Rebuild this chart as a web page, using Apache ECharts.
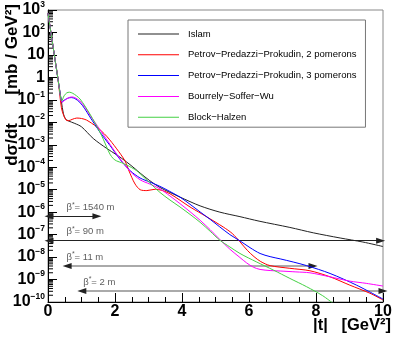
<!DOCTYPE html>
<html>
<head>
<meta charset="utf-8">
<script src="https://cdn.jsdelivr.net/npm/echarts@6/dist/echarts.min.js"></script>
<style>
html, body { margin: 0; padding: 0; background: #fff; }
#main { width: 401px; height: 338px; }
</style>
</head>
<body>
<div id="main"></div>
<script>
// |t| in GeV^2, and log10 of dsigma/dt in mb/GeV^2
var tIslam  = [0, 0.1, 0.2, 0.3, 0.4, 0.46, 0.52, 0.6, 0.8, 1.0, 1.35, 1.75, 2.05, 2.35, 2.6, 2.75, 3.04, 3.34, 3.64, 3.94, 4.54, 5.13, 5.73, 6.3, 7.22, 7.92, 8.72, 9.4, 10];
var lgIslam = [2.85, 1.87, 0.89, -0.09, -1.07, -1.62, -1.84, -1.93, -2.05, -2.2, -2.72, -3.16, -3.45, -3.77, -4.07, -4.26, -4.6, -4.9, -5.12, -5.33, -5.72, -6.0, -6.2, -6.4, -6.68, -6.92, -7.15, -7.33, -7.53];

var tPpp2  = [0, 0.1, 0.2, 0.3, 0.4, 0.47, 0.54, 0.61, 0.72, 0.86, 1.0, 1.15, 1.45, 1.75, 2.05, 2.3, 2.4, 2.5, 2.6, 2.75, 2.95, 3.2, 3.4, 3.64, 3.94, 4.24, 4.74, 5.23, 5.5, 5.73, 5.95, 6.15, 6.35, 6.63, 7.22, 7.82, 8.42, 9.01, 9.61, 10];
var lgPpp2 = [2.85, 1.87, 0.89, -0.09, -1.35, -1.7, -1.9, -1.93, -1.87, -1.81, -1.83, -1.9, -2.2, -2.62, -3.18, -3.72, -4.1, -4.45, -4.75, -5.0, -5.04, -4.98, -5.03, -5.18, -5.47, -5.77, -6.21, -6.66, -6.95, -7.32, -7.7, -7.98, -8.2, -8.38, -8.5, -8.61, -8.88, -9.25, -9.61, -9.91];

var tPpp3  = [0, 0.1, 0.2, 0.3, 0.36, 0.42, 0.5, 0.6, 0.7, 0.8, 0.95, 1.1, 1.25, 1.4, 1.55, 1.85, 2.15, 2.45, 2.75, 3.04, 3.34, 3.64, 3.94, 4.24, 4.54, 4.84, 5.13, 5.43, 5.73, 6.03, 6.33, 6.63, 6.93, 7.32, 7.72, 8.42, 9.21, 10];
var lgPpp3 = [2.85, 1.87, 0.89, -0.09, -0.7, -1.07, -1.0, -0.92, -0.9, -0.94, -1.11, -1.4, -1.76, -2.1, -2.44, -3.03, -3.65, -4.15, -4.48, -4.66, -4.85, -5.08, -5.33, -5.65, -5.99, -6.32, -6.66, -7.0, -7.28, -7.58, -7.84, -7.98, -8.08, -8.22, -8.38, -8.73, -9.25, -9.87];

var tBsw  = [0, 0.1, 0.2, 0.3, 0.36, 0.42, 0.5, 0.6, 0.7, 0.8, 0.95, 1.1, 1.25, 1.4, 1.55, 1.85, 2.15, 2.45, 2.75, 3.04, 3.34, 3.64, 3.94, 4.24, 4.54, 4.84, 5.13, 5.43, 5.73, 5.93, 6.13, 6.33, 6.63, 6.93, 7.4, 7.82, 8.42, 9.01, 9.5, 10];
var lgBsw = [2.85, 1.87, 0.89, -0.09, -0.72, -1.12, -1.02, -0.92, -0.87, -0.9, -1.05, -1.32, -1.68, -2.0, -2.33, -2.98, -3.62, -4.18, -4.56, -4.75, -4.96, -5.28, -5.62, -5.98, -6.36, -6.78, -7.22, -7.65, -8.02, -8.26, -8.45, -8.55, -8.6, -8.62, -8.66, -8.7, -8.88, -9.07, -9.17, -9.29];

var tBh  = [0, 0.1, 0.2, 0.3, 0.36, 0.41, 0.48, 0.56, 0.64, 0.74, 0.85, 0.955, 1.1, 1.25, 1.4, 1.55, 1.65, 1.75, 1.85, 1.95, 2.05, 2.2, 2.35, 2.5, 2.65, 2.75, 3.04, 3.34, 3.64, 3.94, 4.24, 4.54, 4.84, 5.13, 5.43, 5.73, 6.23, 6.73, 7.22, 7.72, 8.2, 8.5];
var lgBh = [2.85, 1.87, 0.89, -0.09, -0.72, -1.05, -0.82, -0.69, -0.66, -0.71, -0.82, -0.96, -1.27, -1.63, -2.02, -2.44, -2.75, -3.1, -3.42, -3.62, -3.72, -3.8, -3.9, -4.02, -4.16, -4.29, -4.7, -5.12, -5.46, -5.77, -6.1, -6.45, -6.85, -7.25, -7.55, -7.84, -8.22, -8.58, -8.95, -9.32, -9.72, -10.05];

var modelNames = ['Islam', 'Petrov\u2212Predazzi\u2212Prokudin, 2 pomerons', 'Petrov\u2212Predazzi\u2212Prokudin, 3 pomerons', 'Bourrely\u2212Soffer\u2212Wu', 'Block\u2212Halzen'];
var modelColors = ['#222222', '#ff0000', '#0000ff', '#ff00ff', '#44d044'];

// beta* acceptance arrows
var betaLabels = ['1540 m', '90 m', '11 m', '2 m'];
var arrowFrom  = [0.03, 0.03, 0.57, 1.01];
var arrowTo    = [1.46, 9.93, 7.91, 10];
var arrowLevel = [-6.18, -7.27, -8.4, -9.51];
var labelFrom  = [0.55, 0.55, 0.55, 1.05];

var FONT = 'Liberation Sans';

function zip(a, b) {
    var out = [];
    for (var i = 0; i < a.length; i++) out.push([a[i], b[i]]);
    return out;
}

// ROOT style log minor ticks (2..9 in every decade)
var minorY = [];
for (var n = -10; n < 3; n++) {
    for (var k = 2; k <= 9; k++) minorY.push([0, n + Math.log10(k)]);
}

var chart = echarts.init(document.getElementById('main'));

var curves = [[tIslam, lgIslam], [tPpp2, lgPpp2], [tPpp3, lgPpp3], [tBsw, lgBsw], [tBh, lgBh]];
var series = curves.map(function (c, i) {
    return {
        name: modelNames[i],
        type: 'line',
        data: zip(c[0], c[1]),
        smooth: 0.3,
        symbol: 'none',
        showSymbol: false,
        lineStyle: { width: 1, color: modelColors[i] },
        itemStyle: { color: modelColors[i] },
        z: 5
    };
});

var arrowLines = [];
for (var i = 0; i < betaLabels.length; i++) {
    if (i >= 2) {
        arrowLines.push([
            { coord: [arrowFrom[i], arrowLevel[i]], symbol: 'none', lineStyle: { color: '#aaaaaa', width: 2 } },
            { coord: [arrowTo[i], arrowLevel[i]], symbol: 'none' }
        ]);
        arrowLines.push([
            { coord: [arrowFrom[i], arrowLevel[i]], lineStyle: { color: '#222', width: 0 } },
            { coord: [arrowTo[i], arrowLevel[i]] }
        ]);
    } else {
        arrowLines.push([
            { coord: [arrowFrom[i], arrowLevel[i]], lineStyle: { color: '#222', width: 1 } },
            { coord: [arrowTo[i], arrowLevel[i]] }
        ]);
    }
}

series.push({
    name: 'arrows',
    type: 'line',
    data: [],
    z: 3,
    markLine: {
        silent: true,
        animation: false,
        symbol: ['triangle', 'triangle'],
        symbolSize: [6, 9],
        label: { show: false },
        lineStyle: { type: 'solid' },
        emphasis: { disabled: true },
        data: arrowLines
    }
});

series.push({
    name: 'betaText',
    type: 'scatter',
    silent: true,
    symbolSize: 1,
    itemStyle: { color: 'rgba(0,0,0,0)' },
    data: betaLabels.map(function (s, i) { return { value: [labelFrom[i], arrowLevel[i]], name: s }; }),
    label: {
        show: true,
        position: 'inside',
        align: 'left',
        verticalAlign: 'middle',
        offset: [0, -9],
        formatter: function (p) { return '{g|\u03b2}{s|*}{g|= ' + p.name + '}'; },
        rich: {
            g: { fontSize: 9.5, fontFamily: FONT, color: '#333', lineHeight: 12 },
            s: { fontSize: 7, fontFamily: FONT, color: '#333', lineHeight: 7, verticalAlign: 'top' }
        }
    },
    z: 6
});

series.push({
    name: 'minorTicks',
    type: 'custom',
    silent: true,
    data: minorY,
    renderItem: function (params, api) {
        var p = api.coord([0, api.value(1)]);
        return {
            type: 'line',
            shape: { x1: p[0], y1: p[1], x2: p[0] + 5, y2: p[1] },
            style: { stroke: '#000', lineWidth: 1 }
        };
    },
    z: 4
});

var option = {
    animation: false,
    backgroundColor: '#fff',
    grid: { left: 48, top: 9, width: 335, height: 293, show: true, borderColor: '#888', borderWidth: 1 },
    legend: {
        data: modelNames,
        orient: 'vertical',
        left: 128,
        top: 20,
        padding: [8, 9, 4, 10],
        icon: 'rect',
        itemWidth: 41,
        itemHeight: 1,
        itemGap: 8.8,
        selectedMode: false,
        backgroundColor: '#fff',
        borderColor: '#777',
        borderWidth: 1,
        textStyle: { fontSize: 9.5, lineHeight: 12, fontFamily: FONT, color: '#000', padding: [0, 0, 0, 4] }
    },
    xAxis: {
        type: 'value',
        min: 0,
        max: 10,
        interval: 2,
        axisLine: { onZero: false, lineStyle: { color: '#000' } },
        axisTick: { inside: true, length: 9, lineStyle: { color: '#000' } },
        minorTick: { show: true, splitNumber: 4, length: 5, lineStyle: { color: '#000' } },
        splitLine: { show: false },
        axisLabel: { fontSize: 16, fontWeight: 'bold', fontFamily: FONT, color: '#000', margin: 2, showMinLabel: true, showMaxLabel: true }
    },
    yAxis: {
        type: 'value',
        min: -10,
        max: 3,
        interval: 1,
        axisLine: { onZero: false, lineStyle: { color: '#000' } },
        axisTick: { inside: true, length: 9, lineStyle: { color: '#000' } },
        splitLine: { show: false },
        axisLabel: {
            margin: 3,
            showMinLabel: true,
            showMaxLabel: true,
            formatter: function (v) {
                if (v === 0) return '{b|1}';
                if (v === 1) return '{b|10}';
                return '{b|10}{s|' + String(v).replace('-', '\u2212') + '}';
            },
            rich: {
                b: { fontSize: 16, fontWeight: 'bold', fontFamily: FONT, color: '#000', lineHeight: 20 },
                s: { fontSize: 8.5, fontWeight: 'bold', fontFamily: FONT, color: '#000', lineHeight: 9, verticalAlign: 'top' }
            }
        }
    },
    graphic: [
        {
            type: 'text',
            x: 12,
            y: 4,
            rotation: Math.PI / 2,
            style: { text: 'd\u03c3/dt      [mb / GeV\u00b2]', font: 'bold 17px "Liberation Sans"', align: 'right', verticalAlign: 'middle', fill: '#000' }
        },
        {
            type: 'text',
            x: 391,
            y: 325,
            style: { text: '|t|   [GeV\u00b2]', font: 'bold 16.5px "Liberation Sans"', align: 'right', verticalAlign: 'middle', fill: '#000' }
        }
    ],
    series: series
};

chart.setOption(option);
</script>
</body>
</html>
